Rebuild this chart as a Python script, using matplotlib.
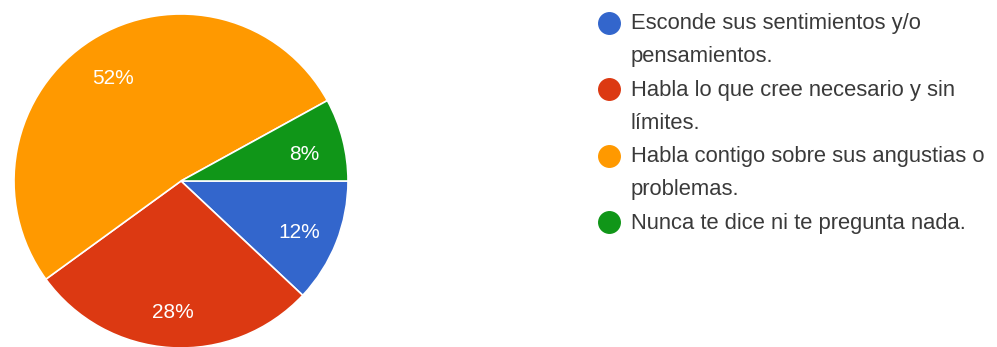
import matplotlib.pyplot as plt
from matplotlib.lines import Line2D

# respuestas de la encuesta
labels = [
    "Esconde sus sentimientos y/o\npensamientos.",
    "Habla lo que cree necesario y sin\nlímites.",
    "Habla contigo sobre sus angustias o\nproblemas.",
    "Nunca te dice ni te pregunta nada.",
]
percent = [12, 28, 52, 8]
colors = ["#3366CC", "#DC3912", "#FF9900", "#109618"]

plt.rcParams['font.family'] = ['Liberation Sans', 'DejaVu Sans']

W, H = 997, 347
fig = plt.figure(figsize=(W / 100, H / 100), dpi=100)

# pie axes, square in pixels
cx, cy, r = 181, 181, 167
ax = fig.add_axes([(cx - r) / W, (H - cy - r) / H, 2 * r / W, 2 * r / H])
wedges, texts, autotexts = ax.pie(
    percent,
    colors=colors,
    startangle=0,
    counterclock=False,
    autopct="%d%%",
    pctdistance=0.76,
    wedgeprops=dict(edgecolor="white", linewidth=1.2),
    textprops=dict(color="white", fontsize=15),
)
# nudge the percentages slightly down
for t in autotexts:
    x, y = t.get_position()
    t.set_position((x, y - 0.03))
ax.set_xlim(-1, 1)
ax.set_ylim(-1, 1)
ax.set_aspect("equal")
ax.axis("off")

# legend drawn by hand so the dot sits on the first line
lx_dot, lx_text = 609, 631
y = 23.5
line_h = 33.3
for lab, col in zip(labels, colors):
    fig.add_artist(Line2D([lx_dot / W], [1 - (y - 1) / H], marker="o", markersize=15.5,
                          color=col, linestyle="none", transform=fig.transFigure))
    for i, part in enumerate(lab.split("\n")):
        fig.text(lx_text / W, 1 - (y + i * line_h) / H, part, fontsize=15.8,
                 color="#3a3a3a", va="center", ha="left")
    y += line_h * (lab.count("\n") + 1)

fig.savefig("out.png", dpi=100)
